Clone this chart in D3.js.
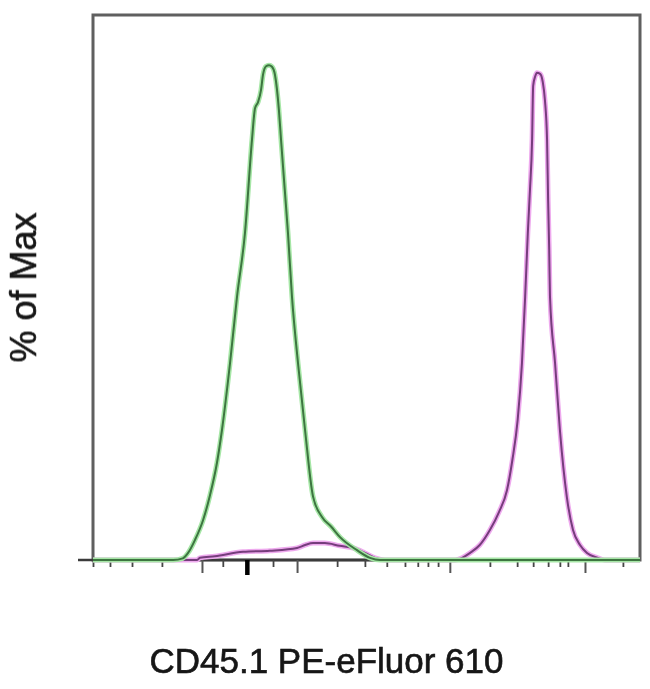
<!DOCTYPE html>
<html>
<head>
<meta charset="utf-8">
<script src="https://cdn.jsdelivr.net/npm/d3@7"></script>
<style>
html,body{margin:0;padding:0;background:#fff;}
svg{display:block;}
</style>
</head>
<body>
<svg id="chart" width="650" height="689"></svg>
<script>
// ---- data (channel units 0..1024, % of Max) ----
const greenX = [0, 150, 168, 178, 191, 206, 219, 232, 241.5, 256.5, 269.6, 284.5, 297.6, 303.3, 308.9, 314.5, 318.2, 323.9, 329.5, 335.1, 340.7, 348, 352, 359, 365, 372.5, 383.8, 396.9, 411.8, 428.7, 446, 462.4, 494.2, 518.5, 537.3, 700, 860, 1024];
const greenY = [0, 0, 0.3, 1.3, 3.7, 7.3, 11.9, 17.8, 23.9, 36.1, 48.3, 60, 77.1, 82.9, 84.0, 86.2, 89.0, 90.6, 90.8, 90.5, 89.0, 82.6, 77.1, 67.9, 60, 48.3, 36.1, 23.9, 11.7, 7.9, 6.1, 4.2, 1.8, 0.4, 0, 0, 0, 0];

const magentaX = [0, 195, 200, 228, 281, 331, 382, 397, 412, 434, 462, 487, 509, 528, 547, 678, 691, 706, 724, 743, 760, 775, 785, 795, 803, 809, 814, 818, 822, 824, 828, 831, 837, 842, 846, 850, 852, 854, 855.5, 865, 874, 887, 898.6, 911.7, 924.8, 945, 958, 1024];
const magentaY = [0, 0, 0.4, 0.7, 1.5, 1.7, 2.2, 2.75, 3.1, 3.1, 2.6, 2.2, 1.3, 0.4, 0, 0, 0.4, 1.3, 2.75, 5.5, 8.8, 12.8, 18.3, 25.7, 36.1, 48.3, 60, 67.9, 77.1, 87, 88.8, 89.4, 89.2, 87.7, 84.4, 77.1, 66, 57, 48.3, 36.1, 23.9, 11.6, 5.5, 2.75, 1.3, 0.4, 0, 0];

const majorTicks = [204, 382, 668, 921];
const minorTicks = [0, 31.8, 73, 129, 243, 337, 457, 509, 550, 584, 608, 627, 646, 743, 794, 824, 852, 874, 889, 992];
const zeroTick = [288];

const xTitle = "CD45.1 PE-eFluor 610";
const yTitle = "% of Max";

// ---- layout ----
const svg = d3.select("#chart");
const mLeft = 93, mRight = 640, mTop = 15, mBottom = 560;

const x = d3.scaleLinear().domain([0, 1024]).range([mLeft, mRight]);
const y = d3.scaleLinear().domain([0, 100]).range([mBottom, mTop]);

const defs = svg.append("defs");
defs.append("filter").attr("id", "soft")
  .attr("x", "-5%").attr("y", "-5%").attr("width", "110%").attr("height", "110%")
  .append("feGaussianBlur").attr("stdDeviation", 0.65);

const g = svg.append("g").attr("filter", "url(#soft)");

// frame
g.append("rect")
  .attr("x", x(0)).attr("y", y(100))
  .attr("width", x(1024) - x(0)).attr("height", y(0) - y(100))
  .attr("fill", "none").attr("stroke", "#5f5f5f").attr("stroke-width", 3);

// axis line extending left
g.append("line")
  .attr("x1", x(0) - 15).attr("x2", x(1024))
  .attr("y1", y(0)).attr("y2", y(0))
  .attr("stroke", "#3a3a3a").attr("stroke-width", 2.5);

// ticks
function tickAxis(vals, size, width, color) {
  const ax = d3.axisBottom(x).tickValues(vals).tickSize(size).tickFormat("");
  const a = g.append("g").attr("transform", `translate(0,${y(0)})`).call(ax);
  a.select(".domain").remove();
  a.selectAll(".tick line").attr("stroke", color).attr("stroke-width", width);
}
tickAxis(minorTicks, 7, 1.8, "#444");
tickAxis(majorTicks, 13, 2, "#555");
tickAxis(zeroTick, 15, 4.5, "#000");

// curves
const line = d3.line().x(d => x(d[0])).y(d => y(d[1]))
  .curve(d3.curveMonotoneX);
const magenta = magentaX.map((v, i) => [v, magentaY[i]]);
const green = greenX.map((v, i) => [v, greenY[i]]);

g.append("path").attr("d", line(magenta)).attr("fill", "none")
  .attr("stroke", "#eeaaee").attr("stroke-width", 5).attr("stroke-linejoin", "round");
g.append("path").attr("d", line(magenta)).attr("fill", "none")
  .attr("stroke", "#763c7c").attr("stroke-width", 2).attr("stroke-linejoin", "round");

g.append("path").attr("d", line(green)).attr("fill", "none")
  .attr("stroke", "#a6e6a6").attr("stroke-width", 5).attr("stroke-linejoin", "round");
g.append("path").attr("d", line(green)).attr("fill", "none")
  .attr("stroke", "#3c7440").attr("stroke-width", 2).attr("stroke-linejoin", "round");

// titles
const t = svg.append("g").attr("filter", "url(#soft)");
t.append("text")
  .attr("x", (x(0) + x(1024)) / 2 - 40).attr("y", 673)
  .attr("text-anchor", "middle")
  .attr("font-family", "Liberation Sans, Arial, sans-serif")
  .attr("font-size", 35).attr("fill", "#141414")
  .attr("stroke", "#141414").attr("stroke-width", 0.6)
  .text(xTitle);

t.append("text")
  .attr("transform", `translate(36,${(y(0) + y(100)) / 2}) rotate(-90)`)
  .attr("text-anchor", "middle")
  .attr("font-family", "Liberation Sans, Arial, sans-serif")
  .attr("font-size", 36).attr("fill", "#141414")
  .attr("stroke", "#141414").attr("stroke-width", 0.6)
  .text(yTitle);
</script>
</body>
</html>
